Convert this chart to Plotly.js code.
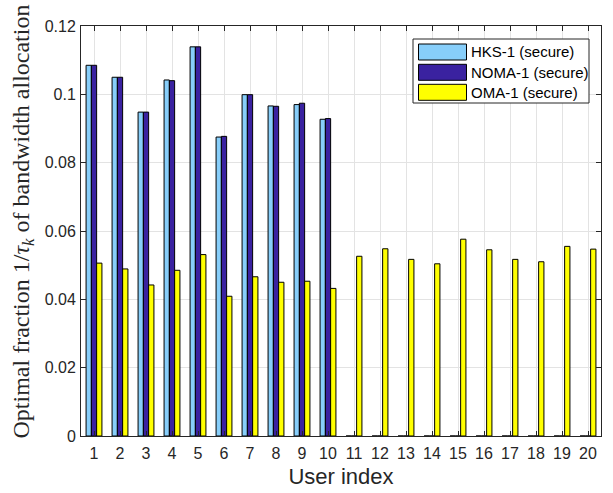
<!DOCTYPE html>
<html>
<head>
<meta charset="utf-8">
<script src="https://cdn.plot.ly/plotly-3.0.1.min.js"></script>
<style>
  html, body { margin: 0; padding: 0; background: #fff; }
  #chart { width: 613px; height: 493px; }
</style>
</head>
<body>
<div id="chart"></div>
<script>
// User indices 1..20
const users = [1, 2, 3, 4, 5, 6, 7, 8, 9, 10, 11, 12, 13, 14, 15, 16, 17, 18, 19, 20];

// Optimal bandwidth fractions 1/tau_k per scheme
const hks1 = [0.1085, 0.1050, 0.0948, 0.1042, 0.1139, 0.0875, 0.0999, 0.0966, 0.0970, 0.0927,
              0, 0, 0, 0, 0, 0, 0, 0, 0, 0];
const noma1 = [0.1085, 0.1050, 0.0948, 0.1040, 0.1139, 0.0877, 0.0999, 0.0965, 0.0974, 0.0929,
               0, 0, 0, 0, 0, 0, 0, 0, 0, 0];
const oma1 = [0.0506, 0.0489, 0.0442, 0.0485, 0.0531, 0.0409, 0.0466, 0.0450, 0.0453, 0.0432,
              0.0526, 0.0548, 0.0517, 0.0504, 0.0576, 0.0545, 0.0517, 0.0510, 0.0555, 0.0547];

const seriesNames = ['HKS-1 (secure)', 'NOMA-1 (secure)', 'OMA-1 (secure)'];
const seriesColors = ['#87cefa', '#3a22a0', '#ffff00'];
const seriesValues = [hks1, noma1, oma1];

const yTitle = 'Optimal fraction 1/<i>τ</i><sub><i>k</i></sub> of bandwidth allocation';
const xTitle = 'User index';

const traces = seriesValues.map((vals, i) => ({
  type: 'bar',
  x: users,
  y: vals,
  name: seriesNames[i],
  marker: { color: seriesColors[i], line: { color: '#000000', width: 1 } },
  showlegend: false,
  hoverinfo: 'x+y'
}));

// plot box in pixels (for placing the boxed legend and the y title)
const W = 613, H = 493;
const M = { l: 81, r: 12, t: 26, b: 57 };
const pw = W - M.l - M.r, ph = H - M.t - M.b;
const px = v => (v - M.l) / pw;
const py = v => (H - M.b - v) / ph;

const sans = 'Liberation Sans, Arial, sans-serif';
const shapes = [];
const annotations = [];

// legend frame
shapes.push({
  type: 'rect', xref: 'paper', yref: 'paper',
  x0: px(413), x1: px(589), y0: py(103), y1: py(39),
  line: { color: '#262626', width: 1 }, fillcolor: '#ffffff', layer: 'above'
});
const rowY = [52, 72.3, 92.3];
seriesNames.forEach((name, i) => {
  shapes.push({
    type: 'rect', xref: 'paper', yref: 'paper',
    x0: px(418.5), x1: px(466.5), y0: py(rowY[i] + 8), y1: py(rowY[i] - 8),
    line: { color: '#000000', width: 1 }, fillcolor: seriesColors[i], layer: 'above'
  });
  annotations.push({
    xref: 'paper', yref: 'paper', x: px(469), y: py(rowY[i]),
    xanchor: 'left', yanchor: 'middle', showarrow: false,
    text: name, font: { family: sans, size: 15, color: '#000000' }
  });
});

// vertical axis title
annotations.push({
  xref: 'paper', yref: 'paper', x: px(22.5), y: py(222),
  xanchor: 'center', yanchor: 'middle', showarrow: false, textangle: -90,
  text: yTitle, font: { family: 'Liberation Serif, Times New Roman, serif', size: 24, color: '#262626' }
});

const axisCommon = {
  showline: true, mirror: 'ticks', linecolor: '#262626', linewidth: 1,
  ticks: 'inside', ticklen: 5, tickcolor: '#262626', tickwidth: 1,
  showgrid: true, gridcolor: '#e3e3e3', gridwidth: 1, zeroline: false,
  tickfont: { family: sans, size: 16, color: '#262626' }
};

const layout = {
  width: W, height: H,
  margin: M,
  paper_bgcolor: '#ffffff', plot_bgcolor: '#ffffff',
  barmode: 'group', bargap: 0.39, bargroupgap: 0,
  showlegend: false,
  xaxis: Object.assign({}, axisCommon, {
    range: [0.5, 20.5], tickmode: 'array', tickvals: users, ticktext: users.map(String),
    ticklabelstandoff: 3,
    title: { text: xTitle, font: { family: sans, size: 22, color: '#262626' }, standoff: 7 }
  }),
  yaxis: Object.assign({}, axisCommon, {
    range: [0, 0.12], dtick: 0.02, tick0: 0, ticklabelstandoff: 1
  }),
  shapes: shapes,
  annotations: annotations
};

Plotly.newPlot('chart', traces, layout, { displayModeBar: false, staticPlot: true });
</script>
</body>
</html>
